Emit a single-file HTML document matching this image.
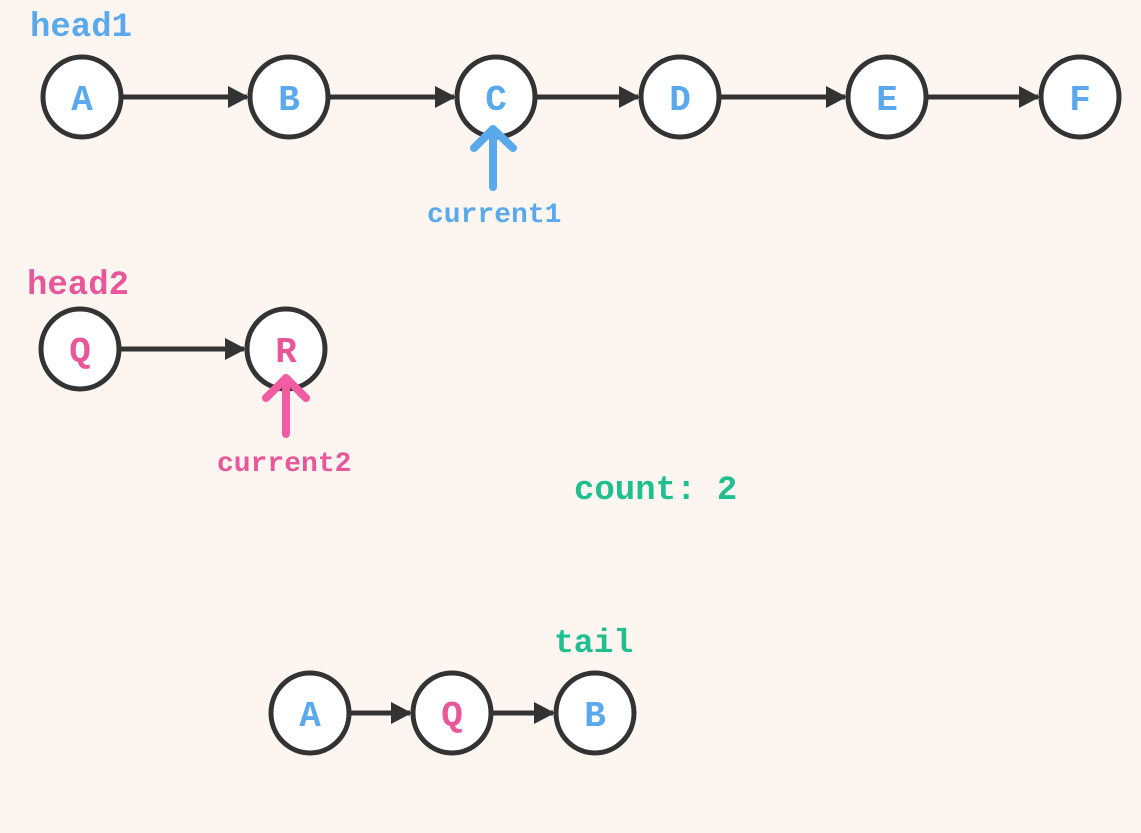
<!DOCTYPE html>
<html><head><style>
html,body{margin:0;padding:0;background:#fdf6f0;}
svg text{font-family:"Liberation Mono",monospace;font-weight:bold;}
</style></head><body>
<svg width="1141" height="828" viewBox="0 0 1141 828" xmlns="http://www.w3.org/2000/svg">
<rect width="1141" height="828" fill="#fdf6f0"/>
<g stroke="#333" stroke-width="5">
<line x1="122" y1="97" x2="247" y2="97"/><path d="M228,86 L249,97 L228,108Z" fill="#333" stroke="none"/>
<line x1="329" y1="97" x2="454" y2="97"/><path d="M435,86 L456,97 L435,108Z" fill="#333" stroke="none"/>
<line x1="536" y1="97" x2="638" y2="97"/><path d="M619,86 L640,97 L619,108Z" fill="#333" stroke="none"/>
<line x1="720" y1="97" x2="845" y2="97"/><path d="M826,86 L847,97 L826,108Z" fill="#333" stroke="none"/>
<line x1="927" y1="97" x2="1038" y2="97"/><path d="M1019,86 L1040,97 L1019,108Z" fill="#333" stroke="none"/>
<line x1="120" y1="349" x2="244" y2="349"/><path d="M225,338 L246,349 L225,360Z" fill="#333" stroke="none"/>
<line x1="350" y1="713" x2="410" y2="713"/><path d="M391,702 L412,713 L391,724Z" fill="#333" stroke="none"/>
<line x1="492" y1="713" x2="553" y2="713"/><path d="M534,702 L555,713 L534,724Z" fill="#333" stroke="none"/>
</g>
<g fill="#fff" stroke="#333" stroke-width="5">
<ellipse cx="82" cy="97" rx="39" ry="40"/>
<ellipse cx="289" cy="97" rx="39" ry="40"/>
<ellipse cx="496" cy="97" rx="39" ry="40"/>
<ellipse cx="680" cy="97" rx="39" ry="40"/>
<ellipse cx="887" cy="97" rx="39" ry="40"/>
<ellipse cx="1080" cy="97" rx="39" ry="40"/>
<ellipse cx="80" cy="349" rx="39" ry="40"/>
<ellipse cx="286" cy="349" rx="39" ry="40"/>
<ellipse cx="310" cy="713" rx="39" ry="40"/>
<ellipse cx="452" cy="713" rx="39" ry="40"/>
<ellipse cx="595" cy="713" rx="39" ry="40"/>
</g>
<g font-size="36" text-anchor="middle" fill="#5aa9ec">
<text x="82" y="110">A</text><text x="289" y="110">B</text><text x="496" y="110">C</text>
<text x="680" y="110">D</text><text x="887" y="110">E</text><text x="1080" y="110">F</text>
<text x="310" y="726">A</text><text x="595" y="726">B</text>
</g>
<g font-size="36" text-anchor="middle" fill="#e8579a">
<text x="80" y="362">Q</text><text x="286" y="362">R</text><text x="452" y="726">Q</text>
</g>
<g fill="none" stroke-width="8" stroke-linecap="round" stroke-linejoin="round">
<path d="M493,187 L493,130 M474,148 L493,129 L513,148" stroke="#5aa9ec"/>
<path d="M286,434 L286,380 M266,398 L286,378 L306,398" stroke="#f25ca3"/>
</g>
<text x="30" y="36" font-size="34" fill="#5aa9ec">head1</text>
<text x="427" y="222" font-size="28" fill="#5aa9ec">current1</text>
<text x="27" y="294" font-size="34" fill="#e8579a">head2</text>
<text x="217" y="471" font-size="28" fill="#e8579a">current2</text>
<text x="574" y="499" font-size="34" fill="#1fbf8f">count: 2</text>
<text x="554" y="652" font-size="33" fill="#1fbf8f">tail</text>
</svg>
</body></html>
